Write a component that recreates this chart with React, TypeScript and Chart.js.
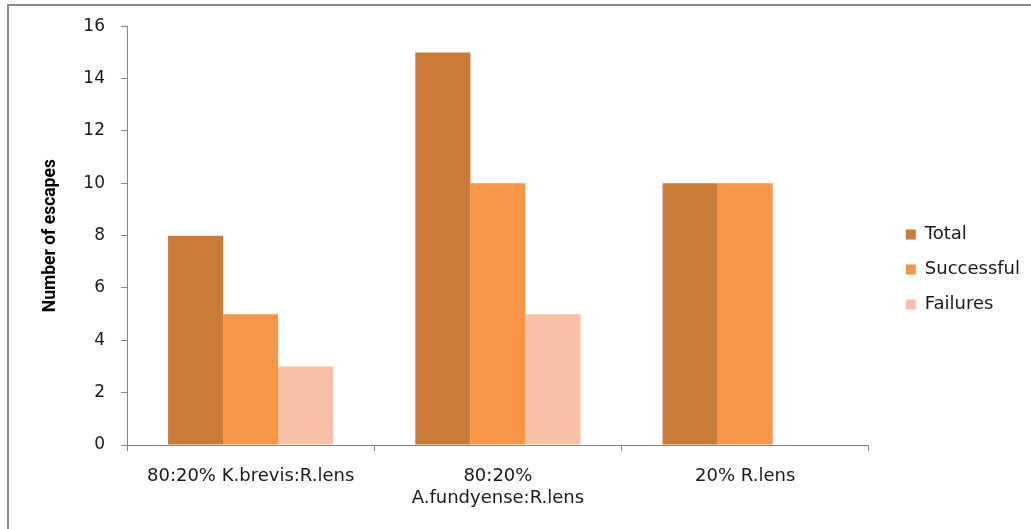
import React, { useEffect, useRef } from "react";
import { Chart, registerables } from "chart.js";

Chart.register(...registerables);

const categories: (string | string[])[] = [
  "80:20% K.brevis:R.lens",
  ["80:20%", "A.fundyense:R.lens"],
  "20% R.lens",
];
const totalValues: (number | null)[] = [8, 15, 10];
const successfulValues: (number | null)[] = [5, 10, 10];
const failureValues: (number | null)[] = [3, 5, null];
const seriesNames = ["Total", "Successful", "Failures"];
const seriesColors = ["#CB7B38", "#F79646", "#FAC1A6"];

const AXIS = "#868686";
const FONT = "DejaVu Sans";

const legendShift = {
  id: "legendShift",
  afterLayout(chart: any) {
    const lg = chart.legend;
    if (!lg) return;
    lg.left += 20;
    lg.right += 20;
    lg.top -= 3;
    lg.bottom -= 3;
  },
};

export default function App() {
  const ref = useRef<HTMLCanvasElement | null>(null);

  useEffect(() => {
    if (!ref.current) return;
    const chart = new Chart(ref.current, {
      type: "bar",
      data: {
        labels: categories,
        datasets: [totalValues, successfulValues, failureValues].map((d, i) => ({
          label: seriesNames[i],
          data: d,
          backgroundColor: seriesColors[i],
          borderWidth: 0,
          categoryPercentage: 0.668,
          barPercentage: 1,
        })),
      },
      plugins: [legendShift],
      options: {
        responsive: false,
        animation: false,
        maintainAspectRatio: false,
        layout: { padding: { top: 10, right: 21, bottom: 0, left: 31 } },
        plugins: {
          tooltip: { enabled: false },
          legend: {
            position: "right",
            align: "center",
            labels: {
              boxWidth: 10,
              boxHeight: 10,
              padding: 17,
              color: "#1a1a1a",
              font: { family: FONT, size: 18 },
            },
          },
        },
        scales: {
          x: {
            grid: {
              drawOnChartArea: false,
              color: AXIS,
              tickLength: 6,
              offset: true,
            },
            border: { color: AXIS, width: 1 },
            ticks: {
              color: "#1a1a1a",
              font: { family: FONT, size: 18, lineHeight: 1.22 },
              padding: 14,
              maxRotation: 0,
              autoSkip: false,
            },
            afterFit: (scale: any) => {
              scale.height = 523 - 439;
            },
          },
          y: {
            min: 0,
            max: 16,
            ticks: {
              stepSize: 2,
              color: "#1a1a1a",
              font: { family: FONT, size: 17, lineHeight: 0.5 },
              padding: 16,
            },
            grid: { drawOnChartArea: false, color: AXIS, tickLength: 6 },
            border: { color: AXIS, width: 1 },
            title: {
              display: true,
              text: "Number of escapes",
              color: "#000",
              font: { family: "Roboto", size: 17.5, weight: "bold" },
              padding: { top: 0, bottom: 0 },
            },
            afterFit: (scale: any) => {
              scale.width = 118 - 31;
            },
          },
        },
      },
    });
    return () => chart.destroy();
  }, []);

  return (
    <>
      <div
        style={{
          position: "fixed",
          left: 7,
          top: 4,
          width: 1100,
          height: 600,
          border: "2px solid #8c8c8c",
          boxSizing: "border-box",
        }}
      />
      <div style={{ position: "fixed", left: 9, top: 6, width: 1022, height: 523 }}>
        <canvas ref={ref} width={1022} height={523} style={{ display: "block" }} />
      </div>
    </>
  );
}
